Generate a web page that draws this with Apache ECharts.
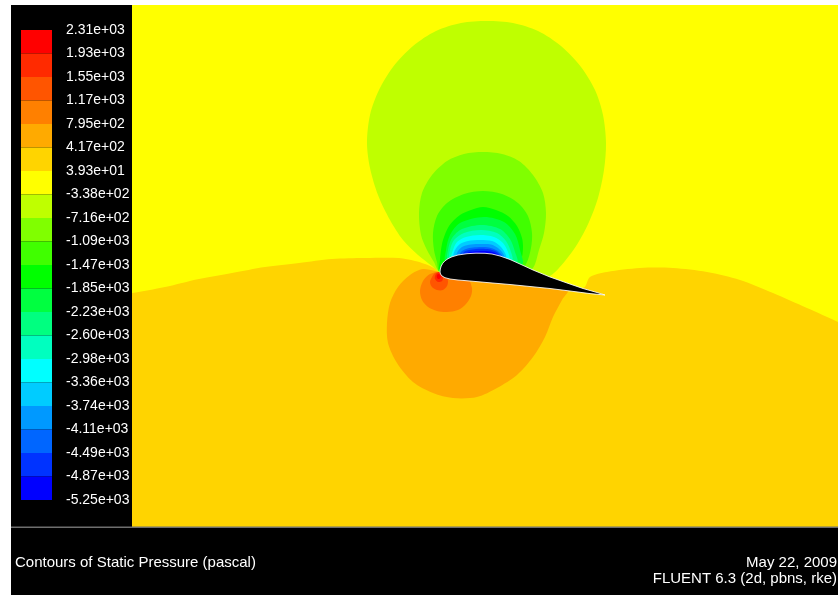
<!DOCTYPE html>
<html>
<head>
<meta charset="utf-8">
<script src="https://cdn.jsdelivr.net/npm/echarts@6/dist/echarts.min.js"></script>
<style>
html,body{margin:0;padding:0;background:#fff;}
#chart{width:838px;height:595px;}
</style>
</head>
<body>
<div id="chart"></div>
<script>
// Colour bar: contour level labels (pascal), top to bottom
const levelLabels = ['2.31e+03','1.93e+03','1.55e+03','1.17e+03','7.95e+02','4.17e+02','3.93e+01',
  '-3.38e+02','-7.16e+02','-1.09e+03','-1.47e+03','-1.85e+03','-2.23e+03','-2.60e+03','-2.98e+03',
  '-3.36e+03','-3.74e+03','-4.11e+03','-4.49e+03','-4.87e+03','-5.25e+03'];

// One colour per band between two levels (band 1 = highest pressure)
const bandColors = ['#ff0000','#ff2a00','#ff5500','#ff8000','#ffaa00','#ffd400','#ffff00',
  '#bfff00','#80ff00','#40ff00','#00ff00','#00ff40','#00ff80','#00ffbf','#00ffff',
  '#00ccff','#0099ff','#0066ff','#0033ff','#0000ff'];

// Contour regions in domain units: origin at the leading edge, y upwards
const freeStream = [[-308,-255],[398,-255],[398,267],[-308,267]];
const band6Lower = [[-340,-25],[-308,-21],[-275,-15],[-241,-7],[-208,-1],[-175,5],[-141,9],[-108,13],
  [-75,14],[-41,14],[-25,11],[-15,8],[-6,4],[0,0],[60,-6],[143,-16],[150,-5],[167,0],[200,4],[233,4],
  [267,0],[300,-8],[333,-21],[367,-36],[398,-50],[430,-66],[430,-300],[-340,-300]];
const band5Lobe = [[0,0],[-17,3],[-30,-3],[-42,-15],[-50,-31],[-53,-51],[-52,-71],[-43,-91],[-27,-110],
  [-7,-121],[13,-126],[37,-125],[57,-116],[77,-103],[93,-85],[105,-65],[113,-45],[122,-28],[128,-17],[60,-5]];
const band4Lobe = [[0,0],[-10,-2],[-17,-9],[-20,-19],[-18,-28],[-12,-35],[-3,-39],[7,-40],[18,-38],
  [26,-32],[31,-24],[32,-16],[28,-7],[15,-3]];
const band3Lobe = [[0,0],[-5,-1],[-8,-5],[-10,-10],[-8,-15],[-3,-18],[3,-18],[7,-14],[8,-9],[6,-4],[3,-1]];
const band2Lobe = [[0,0],[-3,-1],[-5,-4],[-5,-7],[-2,-10],[2,-9],[3,-6],[2,-2]];
const band1Lobe = [[-1,-2],[-3,-3],[-3,-6],[-1,-7],[1,-5]];

const band8Suction = [[0,0],[-8,6],[-22,17],[-37,32],[-50,52],[-62,77],[-70,104],[-73,129],[-70,157],
  [-61,182],[-47,205],[-27,226],[-4,241],[21,249],[47,251],[73,249],[98,241],[121,226],[141,205],
  [155,182],[163,157],[166,129],[164,102],[158,74],[149,50],[138,29],[125,11],[110,-4],[95,-6],[40,-3]];
const band9Suction = [[0,0],[-6,10],[-13,22],[-19,37],[-21,59],[-18,79],[-8,97],[7,111],[24,118],
  [43,120],[62,118],[79,111],[93,97],[103,79],[106,59],[104,39],[99,22],[93,4],[80,-4],[40,-3]];
const band10Suction = [[0,0],[-3,10],[-6,22],[-7,39],[-3,56],[7,69],[24,78],[43,81],[62,78],[78,69],
  [88,56],[92,39],[91,24],[86,8],[75,-2],[40,-3]];
const band11Suction = [[0,0],[0,12],[1,22],[3,32],[9,46],[20,57],[31,62],[43,65],[56,62],[68,56],
  [77,46],[82,34],[83,24],[81,12],[72,2],[40,-3]];
const band12Suction = [[6,10],[6,22],[10,37],[20,49],[44,55],[64,50],[75,38],[80,22],[82,7],[44,0]];
const band13Suction = [[8,11],[8,22],[12,34],[22,43],[42,47],[60,43],[70,33],[75,20],[77,9],[42,0]];
const band14Suction = [[10,13],[10,22],[14,32],[24,39],[41,42],[57,39],[66,31],[71,20],[72,11],[41,2]];
const band15Suction = [[12,14],[13,22],[17,30],[26,35],[40,37],[54,35],[63,29],[68,20],[69,12.5],[40,4]];
const band16Suction = [[14,15],[15,22],[20,28],[28,31],[40,32],[52,31],[60,26],[65,19],[66,14],[40,6]];
const band17Suction = [[17,16],[18,21],[23,25.5],[31,27.5],[41,28],[51,27.5],[58,24],[63,18.5],[64,14],[41,8]];
const band18Suction = [[20,16.5],[21,20],[26,23],[33,24.5],[41,25],[49,24.5],[56,22],[61,18],[62,15],[41,9]];
const band19Suction = [[23,17],[24,20],[29,22],[36,23],[42,23.3],[49,22.7],[55,21],[59,18],[60,15.5],[42,10]];
const band20Suction = [[26,17.5],[28,19.5],[34,20.5],[42,21],[50,20.5],[55,19],[58,16],[42,10]];

// Airfoil outline: upper surface leading edge -> trailing edge, then lower surface back
const airfoilUpper = [[0,0],[0.3,3],[1.2,6],[2.8,8.8],[5,11.2],[8,13.3],[12,15.2],[18,17],[27,18.3],
  [36,18.8],[45,18.7],[52,18],[60,16],[70,12.5],[80,8],[93,2],[110,-5],[127,-11],[143,-16.5],
  [157,-20.5],[165,-23]];
const airfoilLower = [[150,-21.6],[130,-19],[110,-16.5],[90,-14.5],[70,-12.5],[50,-10.8],[30,-9],
  [18,-8],[10,-7],[5,-5.7],[2,-4],[0.5,-2]];

// Painting order: outer regions first, the airfoil last
const contours = [
  {band: 7, pts: freeStream, smooth: 0},
  {band: 6, pts: band6Lower, smooth: 0.3},
  {band: 5, pts: band5Lobe, smooth: 0.3},
  {band: 4, pts: band4Lobe, smooth: 0.3},
  {band: 3, pts: band3Lobe, smooth: 0.3},
  {band: 2, pts: band2Lobe, smooth: 0.3},
  {band: 1, pts: band1Lobe, smooth: 0.3},
  {band: 8, pts: band8Suction, smooth: 0.3},
  {band: 9, pts: band9Suction, smooth: 0.3},
  {band: 10, pts: band10Suction, smooth: 0.3},
  {band: 11, pts: band11Suction, smooth: 0.3},
  {band: 12, pts: band12Suction, smooth: 0.3},
  {band: 13, pts: band13Suction, smooth: 0.3},
  {band: 14, pts: band14Suction, smooth: 0.3},
  {band: 15, pts: band15Suction, smooth: 0.3},
  {band: 16, pts: band16Suction, smooth: 0.3},
  {band: 17, pts: band17Suction, smooth: 0.3},
  {band: 18, pts: band18Suction, smooth: 0.3},
  {band: 19, pts: band19Suction, smooth: 0.3},
  {band: 20, pts: band20Suction, smooth: 0.3},
  {band: 0, pts: airfoilUpper.concat(airfoilLower), smooth: 0}
];

const FONT = '"Liberation Sans", Arial, Helvetica, sans-serif';
const chart = echarts.init(document.getElementById('chart'), null, {renderer: 'canvas'});

chart.setOption({
  backgroundColor: '#ffffff',
  animation: false,
  grid: [
    {left: 132, top: 5, width: 706, height: 522, containLabel: false, outerBoundsMode: 'none'},
    {left: 21, top: 30, width: 31, height: 470, containLabel: false, outerBoundsMode: 'none'}
  ],
  xAxis: [
    {gridIndex: 0, type: 'value', min: -308, max: 398, show: false},
    {gridIndex: 1, type: 'value', min: 0, max: 1, show: false}
  ],
  yAxis: [
    {gridIndex: 0, type: 'value', min: -255, max: 267, show: false},
    {gridIndex: 1, type: 'value', min: 0, max: 20, interval: 1, inverse: true, position: 'right', z: 10,
     axisLine: {show: false}, axisTick: {show: false}, splitLine: {show: false},
     axisLabel: {show: true, showMinLabel: true, showMaxLabel: true, color: '#ffffff', fontSize: 14,
       fontFamily: FONT, margin: 14, padding: [3, 0, 0, 0], formatter: v => levelLabels[v] || ''}}
  ],
  graphic: [
    {type: 'rect', z: 0, shape: {x: 11, y: 5, width: 121, height: 522}, style: {fill: '#000000'}},
    {type: 'rect', z: 0, shape: {x: 11, y: 527, width: 827, height: 68}, style: {fill: '#000000'}},
    {type: 'rect', z: 8, shape: {x: 11, y: 526.5, width: 827, height: 1.5}, style: {fill: '#6e6e6e'}},
    {type: 'text', z: 10, style: {text: 'Contours of Static Pressure (pascal)', x: 15, y: 563,
      font: '15px ' + FONT, fill: '#ffffff', textAlign: 'left', textVerticalAlign: 'middle',
      align: 'left', verticalAlign: 'middle'}},
    {type: 'text', z: 10, style: {text: 'May 22, 2009', x: 837, y: 563,
      font: '15px ' + FONT, fill: '#ffffff', textAlign: 'right', textVerticalAlign: 'middle',
      align: 'right', verticalAlign: 'middle'}},
    {type: 'text', z: 10, style: {text: 'FLUENT 6.3 (2d, pbns, rke)', x: 837, y: 579,
      font: '15px ' + FONT, fill: '#ffffff', textAlign: 'right', textVerticalAlign: 'middle',
      align: 'right', verticalAlign: 'middle'}}
  ],
  series: [
    {
      // Static pressure contour bands around the airfoil
      type: 'custom', xAxisIndex: 0, yAxisIndex: 0, clip: true, silent: true, z: 5,
      data: contours.map(() => [0, 0]),
      renderItem: function (params, api) {
        const c = contours[params.dataIndex];
        const points = c.pts.map(p => api.coord(p));
        const isAirfoil = c.band === 0;
        return {
          type: 'polygon',
          shape: {points: points, smooth: c.smooth},
          style: isAirfoil
            ? {fill: '#000000', stroke: 'rgba(255,255,255,0.85)', lineWidth: 1}
            : {fill: bandColors[c.band - 1], stroke: null}
        };
      }
    },
    {
      // Colour bar swatches, one per band
      type: 'custom', xAxisIndex: 1, yAxisIndex: 1, silent: true, z: 5,
      data: bandColors.map((c, i) => [0, i]),
      renderItem: function (params, api) {
        const i = params.dataIndex;
        const p0 = api.coord([0, i]);
        const p1 = api.coord([1, i + 1]);
        return {
          type: 'rect',
          shape: {x: p0[0], y: p0[1], width: p1[0] - p0[0], height: p1[1] - p0[1]},
          style: {fill: bandColors[i]}
        };
      }
    }
  ]
});
</script>
</body>
</html>
